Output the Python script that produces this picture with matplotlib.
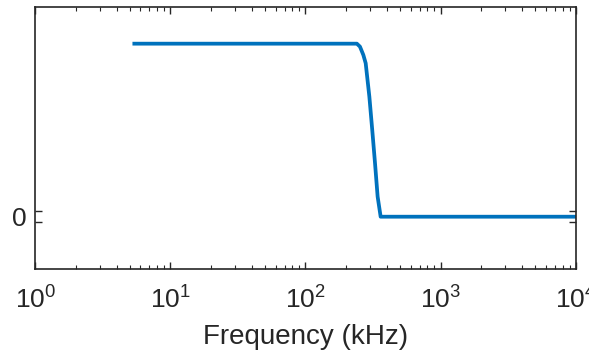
import numpy as np
import matplotlib.pyplot as plt
from matplotlib.ticker import FixedLocator, NullFormatter

# ----------------------------------------------------
# Data (frequency in kHz, normalised response)
# ----------------------------------------------------
freq_khz = [5.41, 240, 253, 268, 279, 297, 312, 327, 342, 360, 10000]
response = [1.0, 1.0, 0.983, 0.935, 0.887, 0.694, 0.501, 0.310, 0.116, 0.0, 0.0]

x_ticks = [1, 10, 100, 1000, 10000]
x_labels = ["$10^0$", "$10^1$", "$10^2$", "$10^3$", "$10^4$"]
y_ticks = [0]
y_labels = ["0"]

plt.rcParams['font.family'] = ['Liberation Sans', 'DejaVu Sans']
plt.rcParams['mathtext.fontset'] = 'custom'
plt.rcParams['mathtext.rm'] = 'Liberation Sans'

ink = '#262626'

fig = plt.figure(figsize=(5.89, 3.53), dpi=100)
ax = fig.add_axes([0.0599, 0.2371, 0.9175, 0.7431])

ax.plot(freq_khz, response, color='#0072BD', linewidth=2.7, solid_joinstyle='round')

ax.set_xscale('log')
ax.set_xlim(1, 1e4)
ax.set_ylim(-0.304, 1.212)

ax.set_xticks(x_ticks)
ax.set_xticklabels(x_labels)
ax.set_yticks(y_ticks)
ax.set_yticklabels(y_labels)
# the little pair of ticks around zero
ax.yaxis.set_minor_locator(FixedLocator([-0.032, 0.032]))
ax.yaxis.set_minor_formatter(NullFormatter())

ax.tick_params(which='both', direction='in', top=True, right=True, colors=ink, labelsize=19)
ax.tick_params(axis='y', which='major', length=0, pad=6)
ax.tick_params(axis='y', which='minor', length=5, width=1.0)
ax.tick_params(axis='x', which='major', length=5, width=1.0, pad=11)
ax.tick_params(axis='x', which='minor', length=3, width=0.8)

for s in ax.spines.values():
    s.set_color(ink)
    s.set_linewidth(1.2)

ax.set_xlabel("Frequency (kHz)", fontsize=20, color=ink, labelpad=8)

fig.savefig("out.png", dpi=100)
